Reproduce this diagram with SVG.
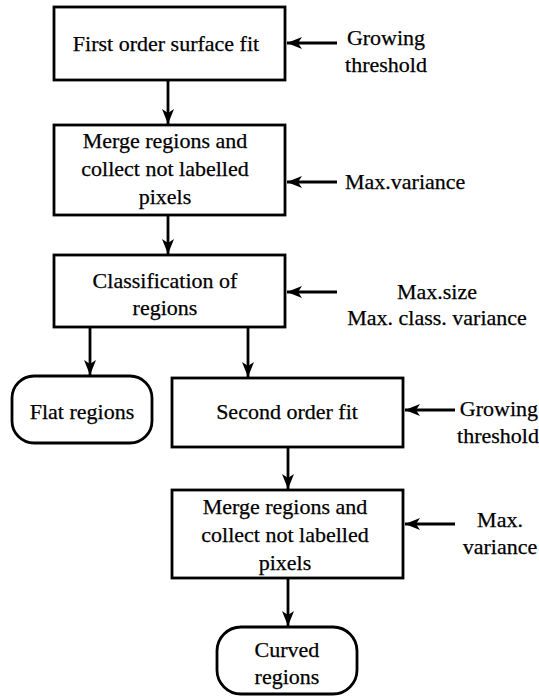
<svg xmlns="http://www.w3.org/2000/svg" width="539" height="696" viewBox="0 0 539 696">
<defs>
<style>
.box{fill:#fff;stroke:#000;stroke-width:2.8}
text{font-family:"Liberation Serif","Times New Roman",serif;font-size:22px;fill:#000;stroke:#000;stroke-width:0.25;text-anchor:middle}
.s{text-anchor:start}
.e{text-anchor:end}
.c{stroke:#000;stroke-width:2.8;fill:none;marker-end:url(#ah)}
</style>
<marker id="ah" markerWidth="16" markerHeight="12" viewBox="0 0 16 12" refX="15" refY="6" orient="auto" markerUnits="userSpaceOnUse">
<path d="M0,0 L15,6 L0,12 L4,6 Z" fill="#000"/>
</marker>
</defs>
<rect width="539" height="696" fill="#fff"/>
<g id="connectors">
<line class="c" x1="168" y1="80" x2="168" y2="124"/>
<line class="c" x1="168" y1="215" x2="168" y2="254"/>
<line class="c" x1="90" y1="327" x2="90" y2="375"/>
<line class="c" x1="248" y1="327" x2="248" y2="377"/>
<line class="c" x1="288" y1="447" x2="288" y2="489"/>
<line class="c" x1="288" y1="578" x2="288" y2="626"/>
<line class="c" x1="337" y1="43" x2="287" y2="43"/>
<line class="c" x1="337" y1="182" x2="287" y2="182"/>
<line class="c" x1="337" y1="292" x2="287" y2="292"/>
<line class="c" x1="455" y1="410" x2="405" y2="410"/>
<line class="c" x1="455" y1="524" x2="405" y2="524"/>
</g>
<g id="n1"><rect class="box" x="54" y="7" width="231" height="73"/><text x="166" y="51">First order surface fit</text></g>
<g id="p1"><text x="386" y="45">Growing</text><text x="386" y="72">threshold</text></g>
<g id="n2"><rect class="box" x="54" y="125" width="231" height="90"/><text x="165" y="148">Merge regions and</text><text x="165" y="176">collect not labelled</text><text x="165" y="204">pixels</text></g>
<g id="p2"><text class="s" x="345" y="189">Max.variance</text></g>
<g id="n3"><rect class="box" x="54" y="255" width="231" height="72"/><text x="165" y="288">Classification of</text><text x="165" y="315">regions</text></g>
<g id="p3"><text x="437" y="299">Max.size</text><text x="437" y="325">Max. class. variance</text></g>
<g id="n4"><rect class="box" x="12" y="376" width="140" height="67" rx="22"/><text x="82" y="419">Flat regions</text></g>
<g id="n5"><rect class="box" x="172" y="378" width="231" height="69"/><text x="287" y="419">Second order fit</text></g>
<g id="p5"><text class="e" x="538" y="416">Growing</text><text class="e" x="539" y="443">threshold</text></g>
<g id="n6"><rect class="box" x="172" y="490" width="231" height="88"/><text x="285" y="514">Merge regions and</text><text x="285" y="542">collect not labelled</text><text x="285" y="570">pixels</text></g>
<g id="p6"><text x="500" y="527">Max.</text><text x="500" y="554">variance</text></g>
<g id="n7"><rect class="box" x="217" y="627" width="140" height="67" rx="24"/><text x="287" y="657">Curved</text><text x="287" y="684">regions</text></g>
</svg>
